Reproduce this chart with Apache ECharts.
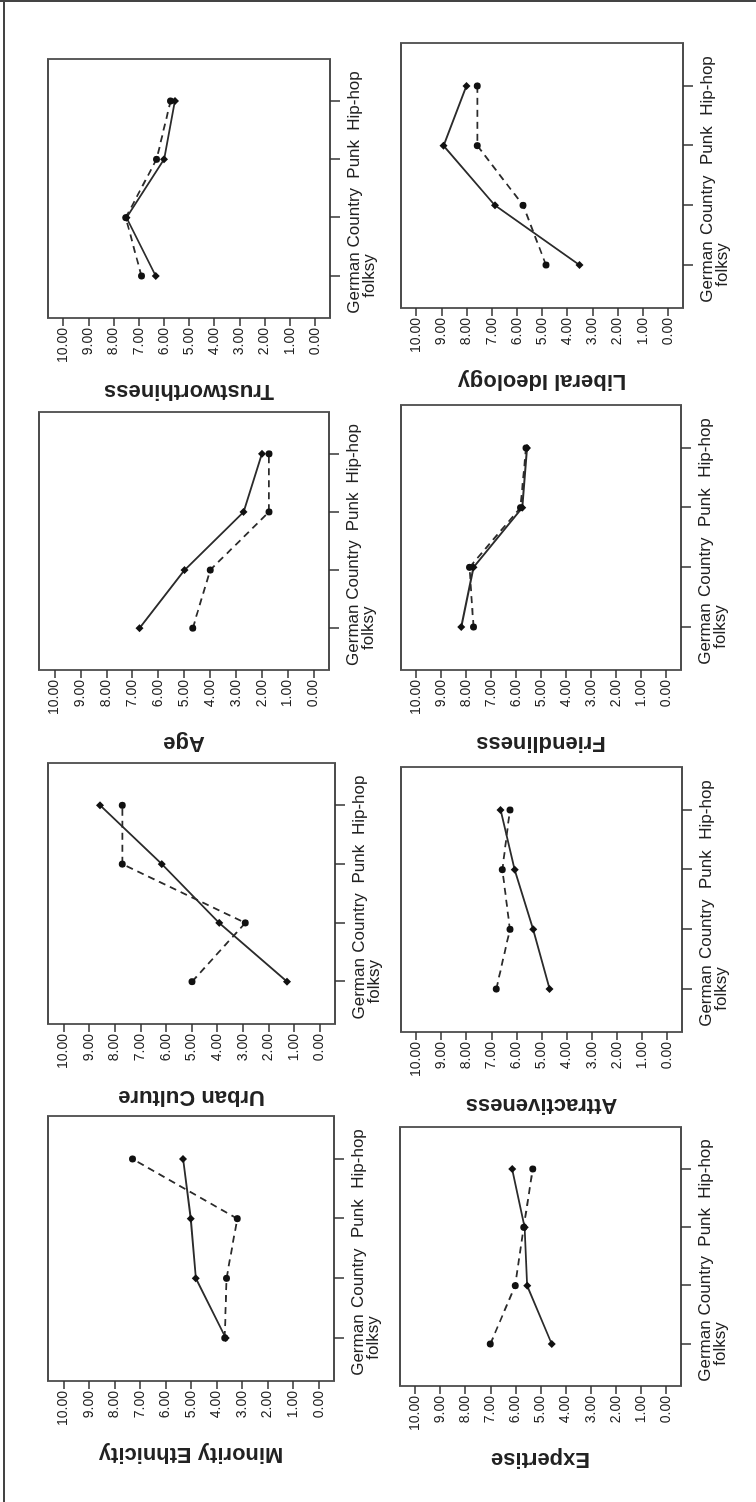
<!DOCTYPE html>
<html>
<head>
<meta charset="utf-8">
<script src="https://cdn.jsdelivr.net/npm/echarts@6/dist/echarts.min.js"></script>
<style>
  html, body { margin: 0; padding: 0; background: #fff; width: 756px; height: 1502px; overflow: hidden; }
  #chart { position: absolute; left: 0; top: 0; width: 1502px; height: 756px;
           transform-origin: 0 0; transform: translate(0px, 1502px) rotate(-90deg); }
</style>
</head>
<body>
<div id="chart"></div>
<script>
// ---- data ----
const categories = ['German   \nfolksy', 'Country', 'Punk', 'Hip-hop'];
const categoryTicks = [1, 2, 3, 4];
const valueTicks = [0, 1, 2, 3, 4, 5, 6, 7, 8, 9, 10];

const titles = ['Minority Ethnicity', 'Urban Culture', 'Age', 'Trustworthiness',
                'Expertise', 'Attractiveness', 'Friendliness', 'Liberal Ideology'];

const minoritySolid   = [3.64, 4.81, 5.01, 5.31];
const minorityDashed  = [3.68, 3.61, 3.19, 7.29];
const urbanSolid      = [1.27, 3.92, 6.16, 8.57];
const urbanDashed     = [4.98, 2.90, 7.70, 7.70];
const ageSolid        = [6.72, 4.98, 2.70, 1.99];
const ageDashed       = [4.66, 3.99, 1.72, 1.72];
const trustSolid      = [6.32, 7.48, 5.99, 5.56];
const trustDashed     = [6.89, 7.51, 6.29, 5.73];
const expertiseSolid  = [4.55, 5.53, 5.63, 6.13];
const expertiseDashed = [7.00, 6.01, 5.67, 5.31];
const attractSolid    = [4.68, 5.33, 6.07, 6.63];
const attractDashed   = [6.80, 6.26, 6.56, 6.26];
const friendSolid     = [8.19, 7.70, 5.75, 5.56];
const friendDashed    = [7.70, 7.86, 5.82, 5.60];
const liberalSolid    = [3.51, 6.87, 8.91, 8.00];
const liberalDashed   = [4.84, 5.75, 7.57, 7.57];

const solidSets  = [minoritySolid, urbanSolid, ageSolid, trustSolid, expertiseSolid, attractSolid, friendSolid, liberalSolid];
const dashedSets = [minorityDashed, urbanDashed, ageDashed, trustDashed, expertiseDashed, attractDashed, friendDashed, liberalDashed];

// ---- layout (unrotated figure coordinates) ----
const boxes = [
  {left: 121, top: 48,  width: 265, height: 286},
  {left: 478, top: 48,  width: 261, height: 287},
  {left: 832, top: 39,  width: 258, height: 290},
  {left: 1184, top: 48, width: 259, height: 282},
  {left: 116, top: 400, width: 259, height: 281},
  {left: 470, top: 401, width: 265, height: 281},
  {left: 832, top: 401, width: 265, height: 280},
  {left: 1194, top: 401, width: 265, height: 282}
];

const ink = '#2b2b2b';
const frame = '#4d4d4d';
const font = 'Liberation Sans, Arial, Helvetica, sans-serif';
const catLabelStyle = {formatter: v => categories[Math.round(v) - 1],
                       showMinLabel: true, showMaxLabel: true, hideOverlap: false,
                       fontSize: 17, lineHeight: 15, margin: 17, color: '#222', fontFamily: font};

const grids = [], xAxes = [], yAxes = [], series = [];
boxes.forEach((b, i) => {
  grids.push({left: b.left, top: b.top, width: b.width, height: b.height,
              show: true, borderColor: frame, borderWidth: 1.8, backgroundColor: 'transparent',
              containLabel: false});
  // main category axis: ticks for all four, labels for the last three
  xAxes.push({
    gridIndex: i, type: 'value', min: 0.28, max: 4.72, position: 'bottom',
    axisLine: {show: false, onZero: false}, splitLine: {show: false},
    axisTick: {show: true, inside: false, length: 10, customValues: categoryTicks, lineStyle: {color: '#333', width: 1.5}},
    axisLabel: Object.assign({customValues: categoryTicks.slice(1)}, catLabelStyle)
  });
  // companion axis carrying the first (two-line) label
  xAxes.push({
    gridIndex: i, type: 'value', min: 0.28, max: 4.72, position: 'bottom',
    axisLine: {show: false, onZero: false}, splitLine: {show: false},
    axisTick: {show: false},
    axisLabel: Object.assign({customValues: categoryTicks.slice(0, 1)}, catLabelStyle)
  });
  yAxes.push({
    gridIndex: i, type: 'value', min: -0.6, max: 10.6, position: 'left',
    axisLine: {show: false, onZero: false}, splitLine: {show: false},
    axisTick: {show: true, inside: false, length: 8, customValues: valueTicks, lineStyle: {color: '#333', width: 1.5}},
    axisLabel: {customValues: valueTicks, formatter: v => Number(v).toFixed(2),
                showMinLabel: true, showMaxLabel: true, hideOverlap: false,
                fontSize: 14, margin: 10, color: '#222', fontFamily: font},
    name: titles[i], nameLocation: 'middle', nameGap: 62, nameRotate: 90,
    nameTextStyle: {fontSize: 22, fontWeight: 'bold', color: '#222', fontFamily: font}
  });
  series.push({
    type: 'line', xAxisIndex: 2 * i, yAxisIndex: i,
    data: solidSets[i].map((v, k) => [categoryTicks[k], v]),
    symbol: 'diamond', symbolSize: 8, silent: true,
    lineStyle: {color: ink, width: 1.8, type: 'solid'},
    itemStyle: {color: '#111'}
  });
  series.push({
    type: 'line', xAxisIndex: 2 * i, yAxisIndex: i,
    data: dashedSets[i].map((v, k) => [categoryTicks[k], v]),
    symbol: 'circle', symbolSize: 7, silent: true,
    lineStyle: {color: ink, width: 1.8, type: [7, 5]},
    itemStyle: {color: '#111'}
  });
});

const chart = echarts.init(document.getElementById('chart'), null, {renderer: 'canvas'});
chart.setOption({
  animation: false,
  backgroundColor: '#fff',
  grid: grids, xAxis: xAxes, yAxis: yAxes, series: series,
  graphic: [
    {type: 'line', shape: {x1: 0, y1: 4, x2: 1502, y2: 4}, style: {stroke: '#444', lineWidth: 2}},
    {type: 'line', shape: {x1: 1501, y1: 0, x2: 1501, y2: 756}, style: {stroke: '#444', lineWidth: 2}}
  ]
});
</script>
</body>
</html>
